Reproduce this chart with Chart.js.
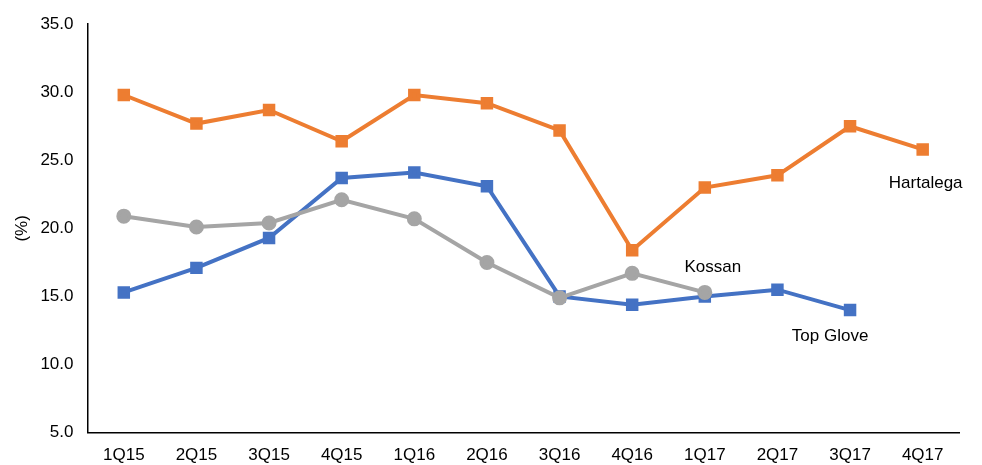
<!DOCTYPE html>
<html>
<head>
<meta charset="utf-8">
<script src="https://cdn.jsdelivr.net/npm/chart.js@4"></script>
<style>
  html, body { margin: 0; padding: 0; background: #fff; }
  #wrap { width: 982px; height: 465px; position: relative; }
</style>
</head>
<body>
<div id="wrap"><canvas id="marginChart"></canvas></div>
<script>
// quarters on the x axis
const quarters = ['1Q15', '2Q15', '3Q15', '4Q15', '1Q16', '2Q16', '3Q16', '4Q16', '1Q17', '2Q17', '3Q17', '4Q17'];

// margins in %
const hartalega = [29.8, 27.7, 28.7, 26.4, 29.8, 29.2, 27.2, 18.4, 23.0, 23.9, 27.5, 25.8];
const topGlove = [15.3, 17.1, 19.3, 23.7, 24.1, 23.1, 15.0, 14.4, 15.0, 15.5, 14.0, null];
const kossan = [20.9, 20.1, 20.4, 22.1, 20.7, 17.5, 14.9, 16.7, 15.3, null, null, null];

const yTicks = [5, 10, 15, 20, 25, 30, 35];

const FONT = 'Liberation Sans, Arial, sans-serif';

// writes the company name next to the last point of each line
const seriesLabels = {
    id: 'seriesLabels',
    afterDatasetsDraw(chart) {
        const ctx = chart.ctx;
        ctx.save();
        ctx.font = '17px ' + FONT;
        ctx.fillStyle = '#000';
        ctx.textAlign = 'center';
        ctx.textBaseline = 'middle';
        chart.data.datasets.forEach((ds, i) => {
            const meta = chart.getDatasetMeta(i);
            let last = -1;
            ds.data.forEach((v, j) => { if (v !== null) last = j; });
            const pt = meta.data[last];
            const off = ds.labelOffset;
            ctx.fillText(ds.label, pt.x + off[0], pt.y + off[1]);
        });
        ctx.restore();
    }
};

const ctx = document.getElementById('marginChart').getContext('2d');
const marginChart = new Chart(ctx, {
    type: 'line',
    data: {
        labels: quarters,
        datasets: [
            {
                label: 'Hartalega',
                data: hartalega,
                borderColor: '#ED7D31',
                backgroundColor: '#ED7D31',
                pointStyle: 'rect',
                pointRadius: 6,
                borderWidth: 4,
                labelOffset: [3, 34],
                order: 3
            },
            {
                label: 'Top Glove',
                data: topGlove,
                borderColor: '#4472C4',
                backgroundColor: '#4472C4',
                pointStyle: 'rect',
                pointRadius: 6,
                borderWidth: 4,
                labelOffset: [-20, 26],
                order: 2
            },
            {
                label: 'Kossan',
                data: kossan,
                borderColor: '#A5A5A5',
                backgroundColor: '#A5A5A5',
                pointStyle: 'circle',
                pointRadius: 5.5,
                borderWidth: 4,
                labelOffset: [8, -25],
                order: 1
            }
        ]
    },
    options: {
        responsive: true,
        maintainAspectRatio: false,
        animation: false,
        spanGaps: false,
        layout: { padding: { top: 12, right: 23, bottom: -14, left: 12 } },
        plugins: {
            legend: { display: false },
            tooltip: { enabled: false }
        },
        scales: {
            x: {
                offset: true,
                grid: { display: false, drawTicks: false },
                border: { display: true, color: '#000', width: 1.5 },
                ticks: { color: '#000', font: { family: FONT, size: 17 }, padding: 13, maxRotation: 0 }
            },
            y: {
                min: 5,
                max: 35,
                afterBuildTicks: axis => { axis.ticks = yTicks.map(v => ({ value: v })); },
                grid: { display: false, drawTicks: false },
                border: { display: true, color: '#000', width: 1.5 },
                ticks: {
                    color: '#000',
                    font: { family: FONT, size: 17 },
                    padding: 14,
                    callback: v => Number(v).toFixed(1)
                },
                title: { display: true, text: '(%)', color: '#000', font: { family: FONT, size: 17 }, padding: { top: 0, bottom: -6 } }
            }
        }
    },
    plugins: [seriesLabels]
});
</script>
</body>
</html>
